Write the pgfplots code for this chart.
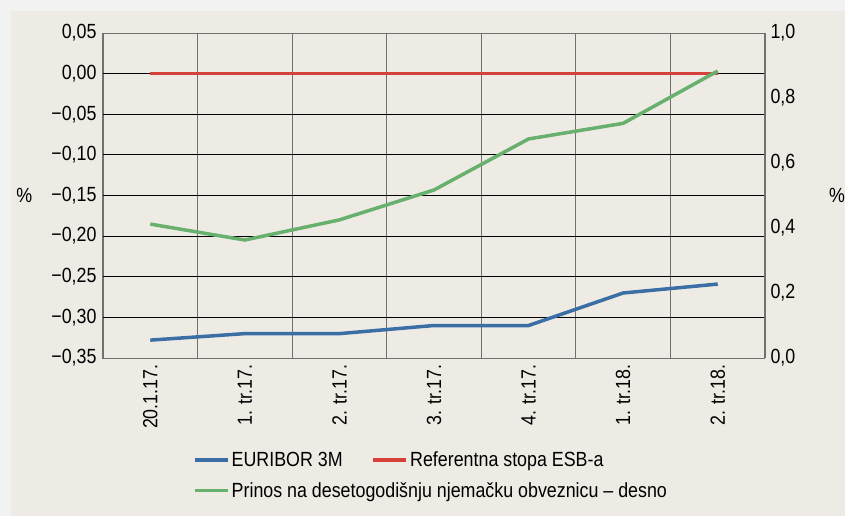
\documentclass[border=0pt]{standalone}
\usepackage{pgfplots}
\pgfplotsset{compat=1.18}
\usepackage{fontspec}
\setmainfont{Liberation Sans}[FakeStretch=0.87]
\definecolor{panel}{HTML}{EEEBE5}
\definecolor{outer}{HTML}{F2F2F2}
\definecolor{cblue}{HTML}{3A6EA5}
\definecolor{cred}{HTML}{D7413B}
\definecolor{cgreen}{HTML}{68B06D}
\definecolor{gridv}{HTML}{707070}
\newcommand{\chartfont}{\fontsize{20.5bp}{24bp}\selectfont}
\begin{document}
\begin{tikzpicture}
\useasboundingbox (-103bp,-158bp) rectangle (742bp,358bp);
\fill[outer] (-103bp,-158bp) rectangle (742bp,358bp);
\fill[panel] (-92bp,-158bp) rectangle (742bp,347bp);
\begin{axis}[
  scale only axis, width=662bp, height=325bp,
  xmin=-0.5, xmax=6.5, ymin=-0.35, ymax=0.05,
  xtick={0,1,2,3,4,5,6},
  xticklabels={20.1.17., 1. tr.17., 2. tr.17., 3. tr.17., 4. tr.17., 1. tr.18., 2. tr.18.},
  minor xtick={-0.5,0.5,1.5,2.5,3.5,4.5,5.5,6.5},
  xminorgrids, ymajorgrids,
  ytick={-0.35,-0.30,-0.25,-0.20,-0.15,-0.10,-0.05,0,0.05},
  yticklabels={{−0,35},{−0,30},{−0,25},{−0,20},{−0,15},{−0,10},{−0,05},{0,00},{0,05}},
  major tick length=0, minor tick length=0,
  axis line style={gridv, line width=1bp},
  minor x grid style={gridv, line width=1.1bp},
  major y grid style={black, line width=0.8bp},
  tick label style={font=\chartfont, black},
  x tick label style={rotate=90, anchor=east},
  xticklabel shift=3bp,
  yticklabel shift=3bp,
  ylabel={\%}, label style={font=\chartfont},
  ylabel style={rotate=-90, at={(axis description cs:-0.119,0.5)}, anchor=center},
  legend columns=2,
  legend cell align=left,
  legend image code/.code={\draw[#1] (0bp,0bp) -- (33bp,0bp);},
  legend style={draw=none, fill=none, inner sep=0pt, font=\chartfont,
    at={(axis description cs:0.136,-0.282)}, anchor=north west,
    /tikz/every even column/.append style={column sep=27bp},
    /tikz/row sep=10bp},
]
\addplot[cblue, line width=3.5bp] coordinates {(0,-0.328) (1,-0.32) (2,-0.32) (3,-0.31) (4,-0.31) (5,-0.27) (6,-0.259)};
\addlegendentry{EURIBOR 3M}
\addplot[cred, line width=3.5bp] coordinates {(0,0) (1,0) (2,0) (3,0) (4,0) (5,0) (6,0)};
\addlegendentry{Referentna stopa ESB-a}
\addlegendimage{cgreen, line width=3.5bp}
\addlegendentry{\makebox[0pt][l]{Prinos na desetogodišnju njemačku obveznicu – desno}}
\end{axis}
\begin{axis}[
  scale only axis, width=662bp, height=325bp,
  xmin=-0.5, xmax=6.5, ymin=0, ymax=1,
  axis y line*=right, axis x line=none,
  ytick={0,0.2,0.4,0.6,0.8,1.0},
  yticklabels={{0,0},{0,2},{0,4},{0,6},{0,8},{1,0}},
  major tick length=0,
  yticklabel shift=2bp,
  axis line style={gridv, line width=1bp},
  tick label style={font=\chartfont, black},
  ylabel={\%}, label style={font=\chartfont},
  ylabel style={rotate=-90, at={(axis description cs:1.109,0.5)}, anchor=center},
]
\addplot[cgreen, line width=3.5bp] coordinates {(0,0.412) (1,0.363) (2,0.425) (3,0.517) (4,0.674) (5,0.722) (6,0.883)};
\end{axis}
\end{tikzpicture}
\end{document}
